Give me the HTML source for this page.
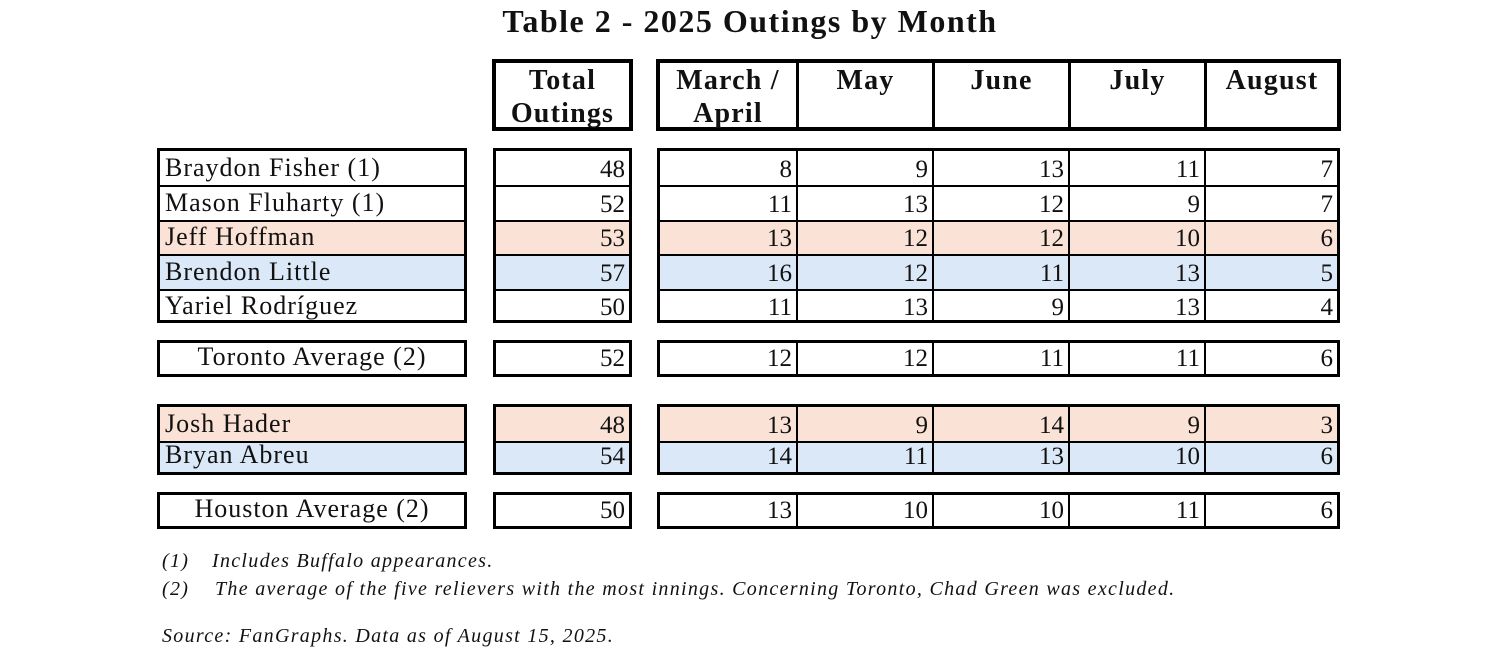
<!DOCTYPE html>
<html><head><meta charset="utf-8"><style>
body{margin:0;width:1500px;height:661px;background:#fff;position:relative;font-family:"Liberation Serif",serif;color:#111;overflow:hidden}
.a{position:absolute}
.g{position:absolute;border:3px solid #000;box-sizing:border-box;background:#fff}
.r{display:flex;box-sizing:border-box;border-top:2px solid #000}
.r:first-child{border-top:none}
.c{box-sizing:border-box;border-left:2px solid #000;text-align:right;padding-right:4px;font-size:25px;display:flex;align-items:flex-end;justify-content:flex-end;line-height:1;padding-bottom:3px}
.c:first-child{border-left:none}
.n{font-size:26px;letter-spacing:1px;padding-left:5px;display:flex;align-items:flex-end;line-height:1;padding-bottom:4px;box-sizing:border-box}
.p{background:#fbe2d6}.b{background:#dbe8f7}
.h{position:absolute;border:4px solid #000;box-sizing:border-box;display:flex;top:59px;height:72px}
.hc{font-weight:bold;font-size:28px;letter-spacing:1.2px;text-align:center;line-height:33px;padding-top:1px;box-sizing:border-box;border-left:3px solid #000}
.hc:first-child{border-left:none}
.w1{width:136px}.w2{width:136px}.w3{width:136px}.w4{width:136px}.w5{flex:1}
.i{font-style:italic;font-size:20px;letter-spacing:1.3px;position:absolute}
</style></head><body>
<div class="a" style="left:0;width:1500px;top:3px;text-align:center;font-weight:bold;font-size:32px;letter-spacing:1.5px">Table 2 - 2025 Outings by Month</div>

<div class="h" style="left:492px;width:141px"><div class="hc" style="flex:1">Total<br>Outings</div></div>
<div class="h" style="left:656px;width:685px"><div class="hc w1">March /<br>April</div><div class="hc w2">May</div><div class="hc w3">June</div><div class="hc w4">July</div><div class="hc w5">August</div></div>

<div class="g" style="left:157px;top:148px;width:310px;height:175px">
<div class="r n" style="height:34px">Braydon Fisher (1)</div>
<div class="r n" style="height:35px">Mason Fluharty (1)</div>
<div class="r n p" style="height:34px">Jeff Hoffman</div>
<div class="r n b" style="height:35px">Brendon Little</div>
<div class="r n" style="height:34px">Yariel Rodríguez</div>
</div>
<div class="g" style="left:493px;top:148px;width:139px;height:175px">
<div class="r" style="height:34px"><div class="c" style="flex:1">48</div></div>
<div class="r" style="height:35px"><div class="c" style="flex:1">52</div></div>
<div class="r p" style="height:34px"><div class="c" style="flex:1">53</div></div>
<div class="r b" style="height:35px"><div class="c" style="flex:1">57</div></div>
<div class="r" style="height:34px"><div class="c" style="flex:1">50</div></div>
</div>
<div class="g" style="left:657px;top:148px;width:683px;height:175px">
<div class="r" style="height:34px"><div class="c w1">8</div><div class="c w2">9</div><div class="c w3">13</div><div class="c w4">11</div><div class="c w5">7</div></div>
<div class="r" style="height:35px"><div class="c w1">11</div><div class="c w2">13</div><div class="c w3">12</div><div class="c w4">9</div><div class="c w5">7</div></div>
<div class="r p" style="height:34px"><div class="c w1">13</div><div class="c w2">12</div><div class="c w3">12</div><div class="c w4">10</div><div class="c w5">6</div></div>
<div class="r b" style="height:35px"><div class="c w1">16</div><div class="c w2">12</div><div class="c w3">11</div><div class="c w4">13</div><div class="c w5">5</div></div>
<div class="r" style="height:34px"><div class="c w1">11</div><div class="c w2">13</div><div class="c w3">9</div><div class="c w4">13</div><div class="c w5">4</div></div>
</div>

<div class="g" style="left:157px;top:340px;width:310px;height:37px"><div class="r n" style="height:31px;justify-content:center;padding-left:0">Toronto Average (2)</div></div>
<div class="g" style="left:493px;top:340px;width:139px;height:37px"><div class="r" style="height:31px"><div class="c" style="flex:1">52</div></div></div>
<div class="g" style="left:657px;top:340px;width:683px;height:37px"><div class="r" style="height:31px"><div class="c w1">12</div><div class="c w2">12</div><div class="c w3">11</div><div class="c w4">11</div><div class="c w5">6</div></div></div>

<div class="g" style="left:157px;top:404px;width:310px;height:71px">
<div class="r n p" style="height:34px">Josh Hader</div>
<div class="r n b" style="height:31px">Bryan Abreu</div>
</div>
<div class="g" style="left:493px;top:404px;width:139px;height:71px">
<div class="r p" style="height:34px"><div class="c" style="flex:1">48</div></div>
<div class="r b" style="height:31px"><div class="c" style="flex:1">54</div></div>
</div>
<div class="g" style="left:657px;top:404px;width:683px;height:71px">
<div class="r p" style="height:34px"><div class="c w1">13</div><div class="c w2">9</div><div class="c w3">14</div><div class="c w4">9</div><div class="c w5">3</div></div>
<div class="r b" style="height:31px"><div class="c w1">14</div><div class="c w2">11</div><div class="c w3">13</div><div class="c w4">10</div><div class="c w5">6</div></div>
</div>

<div class="g" style="left:157px;top:492px;width:310px;height:37px"><div class="r n" style="height:31px;justify-content:center;padding-left:0">Houston Average (2)</div></div>
<div class="g" style="left:493px;top:492px;width:139px;height:37px"><div class="r" style="height:31px"><div class="c" style="flex:1">50</div></div></div>
<div class="g" style="left:657px;top:492px;width:683px;height:37px"><div class="r" style="height:31px"><div class="c w1">13</div><div class="c w2">10</div><div class="c w3">10</div><div class="c w4">11</div><div class="c w5">6</div></div></div>

<div class="i" style="left:162px;top:550px">(1)</div>
<div class="i" style="left:212px;top:550px">Includes Buffalo appearances.</div>
<div class="i" style="left:162px;top:578px">(2)</div>
<div class="i" style="left:215px;top:578px">The average of the five relievers with the most innings. Concerning Toronto, Chad Green was excluded.</div>
<div class="i" style="left:162px;top:625px">Source: FanGraphs. Data as of August 15, 2025.</div>
</body></html>
